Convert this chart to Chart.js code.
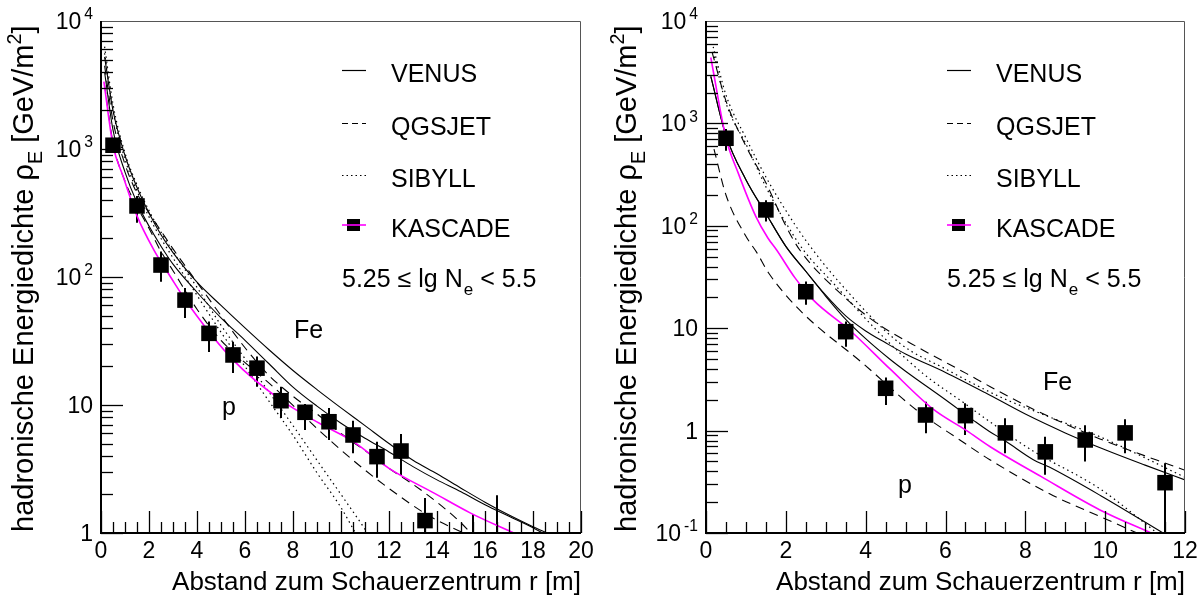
<!DOCTYPE html>
<html>
<head>
<meta charset="utf-8">
<script src="https://cdn.jsdelivr.net/npm/chart.js@4.4.0/dist/chart.umd.min.js"></script>
<style>
  html, body { margin: 0; padding: 0; background: #fff; }
  #wrap { position: relative; width: 1201px; height: 604px; }
  canvas { position: absolute; top: 0; }
  #links { left: 0; }
  #rechts { left: 600px; }
</style>
</head>
<body>
<div id="wrap">
  <canvas id="links" width="600" height="604"></canvas>
  <canvas id="rechts" width="601" height="604"></canvas>
</div>
<script>
// Hadronische Energiedichte gegen Abstand zum Schauerzentrum, 5.25 <= lg Ne < 5.5

// ---- linkes Bild: Messpunkte KASCADE ----
const rLinks = [0.5, 1.5, 2.5, 3.5, 4.5, 5.5, 6.5, 7.5, 8.5, 9.5, 10.5, 11.5, 12.5, 13.5, 15.5, 16.5];
const kascadeLinks = [1070, 359, 124, 66, 36.3, 24.6, 19.4, 10.8, 8.77, 7.4, 5.83, 3.95, 4.37, 1.25, 0.5, 0.5];
const untenLinks = [950, 265, 92, 47.9, 26, 17.8, 13.9, 7.9, 6.38, 5.33, 4.2, 2.7, 2.84, 0.6, 0.1, 0.1];
const obenLinks = [1180, 430, 158, 82, 44.9, 31.2, 23.9, 13.9, 10.2, 9.48, 7.54, 5.17, 5.93, 1.88, 1.41, 1.97];

// Anpassung an die Daten (magenta)
const fitLinksR = [0.12, 0.5, 0.93, 1.5, 2.2, 2.9, 3.7, 5.5, 7.5, 9.1, 10.5, 12, 13.9, 15.4, 17.2];
const fitLinks = [3360, 1070, 605, 300, 163, 100, 59, 22.5, 10.9, 7.2, 5.2, 3.2, 2.04, 1.43, 1.0];

// Simulationen, links
const venusFeLinksR = [0.15, 0.5, 1, 1.5, 2, 2.5, 3, 4, 5, 6, 7, 8, 9, 10, 11, 12, 13, 14, 15, 16, 17, 18, 18.6];
const venusFeLinks = [5250, 2000, 890, 500, 316, 214, 155, 91, 60, 40, 27, 18.6, 13.2, 9.5, 6.9, 5.0, 3.7, 2.9, 2.24, 1.74, 1.38, 1.12, 1.0];
const venusPLinksR = [0.15, 0.5, 1, 1.5, 2, 2.5, 3, 4, 5, 6, 7, 8, 9, 10, 11, 12, 13, 14, 15, 16, 17, 18, 18.4];
const venusPLinks = [3980, 1410, 660, 380, 250, 174, 126, 76, 48, 32, 21, 13.8, 9.8, 7.2, 5.5, 4.3, 3.3, 2.6, 2.1, 1.66, 1.35, 1.1, 1.0];
const qgsFeLinksR = [0.15, 0.5, 1, 1.5, 2, 2.5, 3, 4, 5, 6, 7, 8, 9, 10, 11, 12, 13, 14, 15, 15.4];
const qgsFeLinks = [4470, 1660, 760, 450, 316, 229, 166, 91, 50, 28, 17, 11.7, 8.5, 6.0, 4.4, 3.2, 2.4, 1.74, 1.2, 1.0];
const qgsPLinksR = [0.15, 0.5, 1, 1.5, 2, 2.5, 3, 4, 5, 5.4, 7.3, 9.1, 10.5, 11.9, 13.7, 15.1];
const qgsPLinks = [3160, 1120, 560, 355, 240, 158, 112, 56, 32, 27, 13.2, 6.3, 3.7, 2.3, 1.35, 1.0];
const sibFeLinksR = [0.15, 0.5, 1, 1.5, 2, 2.5, 3, 4, 5, 6, 7, 8, 9, 10, 11, 11.1];
const sibFeLinks = [6300, 2240, 930, 525, 330, 224, 158, 83, 42, 23, 12.6, 6.9, 3.7, 2.0, 1.07, 1.0];
const sibPLinksR = [0.15, 0.5, 1, 1.5, 2, 2.5, 3, 4, 5, 6, 7, 8, 9, 10, 10.6];
const sibPLinks = [5600, 2000, 830, 470, 295, 200, 141, 72, 37, 20, 10.7, 5.8, 2.95, 1.58, 1.0];

// ---- rechtes Bild ----
const rRechts = [0.5, 1.5, 2.5, 3.5, 4.5, 5.5, 6.5, 7.5, 8.5, 9.5, 10.5, 11.5];
const kascadeRechts = [716, 143, 22.7, 9.25, 2.59, 1.42, 1.40, 0.95, 0.62, 0.81, 0.95, 0.31];
const untenRechts = [540, 110, 16.9, 6.6, 1.78, 0.94, 0.906, 0.6, 0.37, 0.50, 0.6, 0.05];
const obenRechts = [880, 178, 28.5, 11.6, 3.3, 1.91, 1.85, 1.32, 0.87, 1.13, 1.29, 0.48];

const fitRechtsR = [0.12, 0.5, 0.81, 1.25, 1.55, 1.77, 2.23, 2.69, 3.61, 4.61, 5.69, 6.53, 7.11, 8.4, 9.87, 11.15];
const fitRechts = [4400, 720, 325, 123, 76, 58, 31, 18.8, 9.5, 4.0, 1.62, 1.0, 0.70, 0.355, 0.168, 0.1];

const venusFeRechtsR = [0.12, 0.5, 1, 1.5, 2, 2.5, 3, 3.5, 4, 4.5, 5, 6, 7, 8, 9, 10, 11, 12];
const venusFeRechts = [2880, 760, 282, 132, 63, 36, 21, 13.2, 9.4, 7.2, 5.6, 3.7, 2.34, 1.45, 0.95, 0.65, 0.46, 0.33];
const venusPRechtsR = [0.12, 0.5, 1, 1.5, 2, 2.5, 3, 3.5, 4, 4.6, 5, 6, 6.7, 7.1, 7.5, 8.2, 8.6, 9.9, 11.45];
const venusPRechts = [2880, 760, 282, 132, 63, 36, 20.5, 12.2, 7.9, 5.0, 3.8, 2.0, 1.26, 0.98, 0.79, 0.52, 0.44, 0.23, 0.1];
const qgsFeRechtsR = [0.15, 0.5, 1, 1.5, 2, 2.35, 3.36, 4.28, 5.44, 6.53, 7.11, 8.2, 9.87, 12];
const qgsFeRechts = [5000, 1660, 600, 263, 100, 58, 22, 11.2, 6.1, 3.6, 2.7, 1.62, 0.83, 0.41];
const qgsPRechtsR = [0.2, 0.5, 1, 1.27, 1.56, 2.35, 3.94, 5.28, 6.36, 7.11, 8.62, 9.87, 10.8];
const qgsPRechts = [560, 200, 79, 55, 35, 15, 4.5, 1.58, 0.81, 0.52, 0.24, 0.145, 0.1];
const sibFeRechtsR = [0.18, 0.5, 1, 1.5, 2, 2.5, 3.36, 4.86, 6, 7.36, 8.5, 9.87, 12];
const sibFeRechts = [5600, 1900, 720, 300, 141, 72, 27.5, 7.1, 4.0, 2.14, 1.41, 0.87, 0.35];
const sibPRechtsR = [0.18, 0.5, 1, 1.5, 2, 2.44, 3.19, 4.28, 5.44, 6.5, 7.11, 8.2, 9.87, 11.3];
const sibPRechts = [5000, 1580, 630, 240, 107, 58, 27.5, 9.5, 3.6, 1.82, 1.22, 0.63, 0.27, 0.1];

// Beschriftungen
const legendeText = ['VENUS', 'QGSJET', 'SIBYLL', 'KASCADE'];
const xTitel = 'Abstand zum Schauerzentrum r [m]';

const SCHRIFT = '"Liberation Sans", Arial, Helvetica, sans-serif';
const MAGENTA = '#ff00ff';

function font(size) { return size + 'px ' + SCHRIFT; }

function pts(xs, ys) {
  return xs.map((x, i) => ({ x: x, y: ys[i] }));
}

// Text mit Hoch-/Tiefstellung
function richWidth(ctx, parts, size) {
  let w = 0;
  for (const p of parts) {
    ctx.font = font(p.sup || p.sub ? size * 0.68 : size);
    w += ctx.measureText(p.t).width + (p.gap || 0);
  }
  return w;
}

function drawRich(ctx, parts, x, y, size, align) {
  const w = richWidth(ctx, parts, size);
  let cx = align === 'right' ? x - w : (align === 'center' ? x - w / 2 : x);
  ctx.textAlign = 'left';
  ctx.textBaseline = 'alphabetic';
  for (const p of parts) {
    ctx.font = font(p.sup || p.sub ? size * 0.68 : size);
    const dy = p.sup ? -size * 0.42 : (p.sub ? size * 0.3 : 0);
    cx += p.gap || 0;
    ctx.fillText(p.t, cx, y + dy);
    cx += ctx.measureText(p.t).width;
  }
}

function zehnerLabel(e) {
  if (e === 0) return [{ t: '1' }];
  if (e === 1) return [{ t: '10' }];
  return [{ t: '10' }, { t: String(e), sup: true, gap: 3 }];
}

function linie(ctx, x1, y1, x2, y2) {
  ctx.beginPath();
  ctx.moveTo(x1, y1);
  ctx.lineTo(x2, y2);
  ctx.stroke();
}

function kurve(xs, ys, farbe, dash, breite) {
  return {
    data: pts(xs, ys),
    borderColor: farbe,
    borderWidth: breite,
    borderDash: dash,
    pointRadius: 0,
    fill: false,
    cubicInterpolationMode: 'monotone'
  };
}

// Achsen, Fehlerbalken und Texte im ROOT-Stil
function rootStil(t) {
  return {
    id: 'rootStil',
    beforeDatasetsDraw(chart) {
      const { ctx, chartArea: a, scales: { x, y } } = chart;
      ctx.save();
      ctx.beginPath();
      ctx.rect(a.left, a.top, a.right - a.left, a.bottom - a.top);
      ctx.clip();
      ctx.strokeStyle = '#000';
      ctx.lineWidth = 2;
      t.r.forEach((r, i) => {
        const px = Math.round(x.getPixelForValue(r));
        linie(ctx, px, y.getPixelForValue(t.unten[i]), px, y.getPixelForValue(t.oben[i]));
      });
      ctx.restore();
    },
    afterDatasetsDraw(chart) {
      const { ctx, chartArea: a, scales: { x, y } } = chart;
      ctx.save();

      // Rahmen
      ctx.strokeStyle = '#555';
      ctx.lineWidth = 1;
      ctx.beginPath();
      ctx.moveTo(a.left, a.top + 0.5);
      ctx.lineTo(a.right - 0.5, a.top + 0.5);
      ctx.lineTo(a.right - 0.5, a.bottom);
      ctx.stroke();
      ctx.strokeStyle = '#000';
      ctx.lineWidth = 2;
      ctx.beginPath();
      ctx.moveTo(a.left, a.top);
      ctx.lineTo(a.left, a.bottom);
      ctx.lineTo(a.right, a.bottom);
      ctx.stroke();

      // y-Striche, logarithmisch
      ctx.lineWidth = 1.3;
      for (let e = t.yMinExp; e < 4; e++) {
        for (let m = 1; m <= 9; m++) {
          const py = Math.round(y.getPixelForValue(m * Math.pow(10, e))) + 0.5;
          linie(ctx, a.left, py, a.left + (m === 1 ? 22 : 12), py);
        }
      }
      // x-Striche
      for (let v = 0; v <= t.xMax + 1e-9; v += 0.5) {
        const px = Math.round(x.getPixelForValue(v)) + 0.5;
        const gross = Math.abs(v / 2 - Math.round(v / 2)) < 1e-9;
        linie(ctx, px, a.bottom, px, a.bottom - (gross ? 22 : 11));
      }

      ctx.fillStyle = '#000';
      // Zahlen an der x-Achse
      ctx.font = font(t.tickSize);
      ctx.textAlign = 'center';
      ctx.textBaseline = 'alphabetic';
      for (let v = 0; v <= t.xMax; v += 2) {
        ctx.fillText(String(v), x.getPixelForValue(v), a.bottom + 25);
      }
      // Zahlen an der y-Achse
      for (let e = t.yMinExp; e <= 4; e++) {
        const py = y.getPixelForValue(Math.pow(10, e));
        drawRich(ctx, zehnerLabel(e), a.left - 8, py + 8, t.tickSize, 'right');
      }

      // Achsentitel
      ctx.font = font(t.xTitelSize);
      ctx.textAlign = 'right';
      ctx.fillText(xTitel, a.right, 590);
      ctx.save();
      ctx.translate(t.yTitelX, a.bottom - 1);
      ctx.rotate(-Math.PI / 2);
      drawRich(ctx, [
        { t: 'hadronische Energiedichte \u03c1' },
        { t: 'E', sub: true },
        { t: ' [GeV/m' },
        { t: '2', sup: true },
        { t: ']' }
      ], 0, 0, t.yTitelSize, 'left');
      ctx.restore();

      // Legende
      const lx = t.legendeX;
      const zeilen = [70, 123, 175, 225];
      const dashes = [[], [6, 4], [1.5, 3]];
      ctx.lineWidth = 1.2;
      ctx.strokeStyle = '#000';
      for (let i = 0; i < 3; i++) {
        ctx.setLineDash(dashes[i]);
        linie(ctx, lx, zeilen[i] + 0.5, lx + 24, zeilen[i] + 0.5);
      }
      ctx.setLineDash([]);
      ctx.fillRect(lx + 5, zeilen[3] - 6, 13, 12);
      ctx.strokeStyle = MAGENTA;
      ctx.lineWidth = 1.6;
      linie(ctx, lx, zeilen[3], lx + 24, zeilen[3]);
      ctx.font = font(t.textSize);
      ctx.textAlign = 'left';
      legendeText.forEach((s, i) => ctx.fillText(s, lx + 49, zeilen[i] + 12));

      // Schnitt in lg Ne
      drawRich(ctx, [
        { t: '5.25 \u2264 lg N' },
        { t: 'e', sub: true, gap: 1 },
        { t: ' < 5.5' }
      ], t.schnittX, 287, t.textSize, 'left');

      // Primaerteilchen
      ctx.font = font(t.textSize);
      ctx.textAlign = 'left';
      ctx.fillText('Fe', t.fe[0], t.fe[1]);
      ctx.fillText('p', t.p[0], t.p[1]);
      ctx.restore();
    }
  };
}

function baueBild(id, t) {
  const datasets = [
    {
      data: pts(t.r, t.kascade),
      showLine: false,
      pointStyle: 'rect',
      pointRadius: 11,
      pointBackgroundColor: '#000',
      pointBorderWidth: 0
    },
    kurve(t.fit[0], t.fit[1], MAGENTA, [], 1.6),
    kurve(t.venusFe[0], t.venusFe[1], '#000', [], 1.1),
    kurve(t.venusP[0], t.venusP[1], '#000', [], 1.1),
    kurve(t.qgsFe[0], t.qgsFe[1], '#000', [9, 6], 1.1),
    kurve(t.qgsP[0], t.qgsP[1], '#000', [9, 6], 1.1),
    kurve(t.sibFe[0], t.sibFe[1], '#000', [1.5, 3.5], 1.2),
    kurve(t.sibP[0], t.sibP[1], '#000', [1.5, 3.5], 1.2)
  ];
  return new Chart(document.getElementById(id), {
    type: 'line',
    data: { datasets: datasets },
    options: {
      responsive: false,
      animation: false,
      events: [],
      layout: { padding: t.padding },
      plugins: { legend: { display: false }, tooltip: { enabled: false } },
      scales: {
        x: { type: 'linear', min: 0, max: t.xMax, display: false },
        y: { type: 'logarithmic', min: Math.pow(10, t.yMinExp), max: 1e4, display: false }
      }
    },
    plugins: [rootStil(t)]
  });
}

baueBild('links', {
  r: rLinks, kascade: kascadeLinks, unten: untenLinks, oben: obenLinks,
  fit: [fitLinksR, fitLinks],
  venusFe: [venusFeLinksR, venusFeLinks], venusP: [venusPLinksR, venusPLinks],
  qgsFe: [qgsFeLinksR, qgsFeLinks], qgsP: [qgsPLinksR, qgsPLinks],
  sibFe: [sibFeLinksR, sibFeLinks], sibP: [sibPLinksR, sibPLinks],
  xMax: 20, yMinExp: 0,
  padding: { left: 101, top: 21, right: 19, bottom: 71 },
  tickSize: 23, textSize: 25, xTitelSize: 26, yTitelSize: 29,
  yTitelX: 33, legendeX: 342, schnittX: 342,
  fe: [294, 338], p: [222, 415]
});

baueBild('rechts', {
  r: rRechts, kascade: kascadeRechts, unten: untenRechts, oben: obenRechts,
  fit: [fitRechtsR, fitRechts],
  venusFe: [venusFeRechtsR, venusFeRechts], venusP: [venusPRechtsR, venusPRechts],
  qgsFe: [qgsFeRechtsR, qgsFeRechts], qgsP: [qgsPRechtsR, qgsPRechts],
  sibFe: [sibFeRechtsR, sibFeRechts], sibP: [sibPRechtsR, sibPRechts],
  xMax: 12, yMinExp: -1,
  padding: { left: 106, top: 21, right: 16, bottom: 71 },
  tickSize: 23, textSize: 25, xTitelSize: 26, yTitelSize: 29,
  yTitelX: 36, legendeX: 347, schnittX: 347,
  fe: [443, 390], p: [298, 493]
});
</script>
</body>
</html>
